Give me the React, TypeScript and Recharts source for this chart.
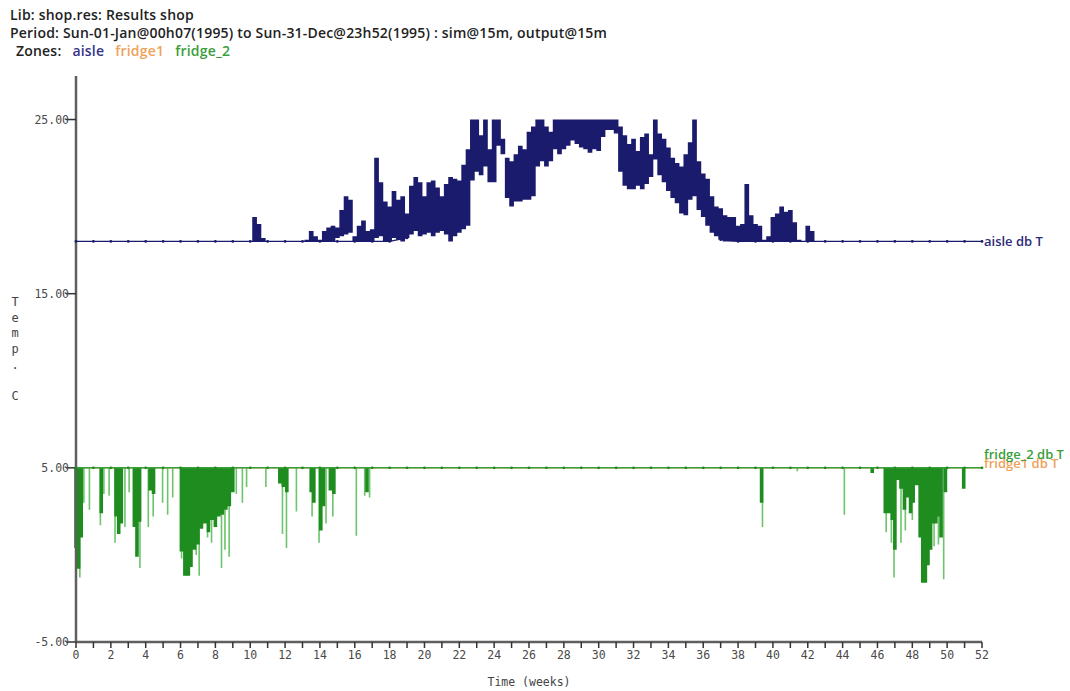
import { ComposedChart, Line, XAxis, YAxis } from 'recharts'

const HEADER_LIB = 'Lib: shop.res: Results shop'
const HEADER_PERIOD =
  'Period: Sun-01-Jan@00h07(1995) to Sun-31-Dec@23h52(1995) : sim@15m, output@15m'
const zoneNames = ['aisle', 'fridge1', 'fridge_2']
const seriesLabels = ['aisle db T', 'fridge1 db T', 'fridge_2 db T']

const NAVY = '#1b1b6e'
const ORANGE = '#eea25a'
const GREEN = '#1f8c1f'
const LIGHT_GREEN = '#6cc46c'

const weekTicks = [
  0, 1, 2, 3, 4, 5, 6, 7, 8, 9, 10, 11, 12, 13, 14, 15, 16, 17, 18, 19, 20, 21, 22, 23, 24, 25,
  26, 27, 28, 29, 30, 31, 32, 33, 34, 35, 36, 37, 38, 39, 40, 41, 42, 43, 44, 45, 46, 47, 48, 49,
  50, 51, 52,
]
const tempTicks = [-5, 5, 15, 25]

// one sample per week (index = week), drawn with the little markers;
// null where the trace is buried in the summer band
const aisleWeekly = [
  18, 18, 18, 18, 18, 18, 18, 18, 18, 18,
  18, 18, 18, 18, 18,
  18, 18, 18, 18, 18.2,
  null, null, null, null, null,
  null, null, null, null, null,
  null, null, null, null, null,
  null, null, 18.1, 18, 18,
  18, 18, 18, 18, 18,
  18, 18, 18, 18, 18,
  18, 18, 18,
]
const fridge1Weekly = [
  5, 5, 5, 5, 5, 5, 5, 5, 5, 5, 5, 5, 5, 5, 5, 5, 5, 5, 5, 5, 5, 5, 5, 5, 5, 5,
  5, 5, 5, 5, 5, 5, 5, 5, 5, 5, 5, 5, 5, 5, 5, 5, 5, 5, 5, 5, 5, 5, 5, 5, 5, 5, 5,
]
const fridge2Weekly = [
  5, 5, 5, 5, 5, 5, 5, 5, 5, 5, 5, 5, 5, 5, 5, 5, 5, 5, 5, 5, 5, 5, 5, 5, 5, 5,
  5, 5, 5, 5, 5, 5, 5, 5, 5, 5, 5, 5, 5, 5, 5, 5, 5, 5, 5, 5, 5, 5, 5, 5, 5, 5, 5,
]

// aisle min / max in each quarter week, weeks 10 .. 42.5
const aisleBandStart = 10
const aisleBandStep = 0.25
const aisleHigh = [
  18, 19.4, 19.0, 18.2,
  18, 18, 18, 18,
  18, 18, 18, 18,
  18, 18.1, 18.6, 18.3,
  18.1, 18.6, 18.8, 18.9,
  18.8, 19.8, 20.6, 20.4,
  18.3, 18.9, 19.2, 18.6,
  18.7, 22.8, 21.4, 20.3,
  20.0, 20.9, 20.4, 20.6,
  19.6, 21.2, 21.7, 21.4,
  20.6, 21.4, 21.5, 21.1,
  20.6, 21.3, 21.7, 21.6,
  21.5, 22.4, 23.3, 25.0,
  25.0, 24.1, 25.0, 23.3,
  25.0, 25.0, 23.0, 22.8,
  22.6, 23.0, 23.5, 23.3,
  24.3, 24.6, 25.0, 25.0,
  24.6, 24.3, 25.0, 25.0,
  25, 25, 25, 25,
  25, 25, 25, 25,
  25, 25, 25, 25,
  25.0, 24.6, 24.1, 23.6,
  23.9, 23.2, 24.0, 24.2,
  23.0, 25.0, 24.2, 23.9,
  23.4, 22.8, 22.5, 22.3,
  23.0, 23.7, 25.0, 22.6,
  21.9, 21.6, 20.6, 20.0,
  19.9, 19.5, 19.4, 19.4,
  18.9, 19.0, 21.3, 19.5,
  19.0, 18.9, 18.1, 18.3,
  19.4, 19.6, 20.0, 19.7,
  19.8, 19.1, 18.1, 18.0,
  18.9, 18.6, 18.0,
]
const aisleLow = [
  18, 18, 18, 18,
  18, 18, 18, 18,
  18, 18, 18, 18,
  18, 18, 18, 18,
  18, 18, 18, 18,
  18.2, 18.3, 18.4, 18.5,
  18, 18, 18, 18,
  18, 18.2, 18.3, 18,
  18, 18.2, 18.1, 18,
  18.2, 18.4, 18.6, 18.3,
  18.4, 18.5, 18.3, 18.5,
  18.6, 18.4, 18, 18.3,
  18.5, 18.7, 18.9, 21.5,
  22, 21.8, 22.3, 21.4,
  21.4, 23.5, 23.9, 20.5,
  20, 20.3, 20.3, 20.4,
  20.4, 20.6, 22.3, 22.6,
  22.3, 22.6, 23.3, 23,
  23.3, 23.5, 23.8, 23.6,
  23.4, 23.3, 23.1, 23.3,
  23.2, 24, 24.4, 24.4,
  24.2, 22, 21.2, 21,
  21, 21.2, 21, 21.3,
  21.7, 22.7, 21.8, 21.4,
  20.9, 20.5, 20.2, 19.6,
  19.5, 20.4, 20.6, 19.8,
  19.4, 18.9, 18.5, 18.3,
  18.1, 18, 18, 18,
  18, 18, 18, 18,
  18, 18, 18, 18,
  18, 18, 18, 18,
  18, 18, 18, 18,
  18, 18, 18,
]

// fridge_2 drops below its 5 C setpoint: dense runs and single spikes
const FRIDGE_SETPOINT = 5
const fridgeDenseWeeks = [
  0.0, 0.15, 0.3, 1.45, 2.3, 2.45, 2.6, 3.35, 3.5, 3.65, 4.25, 4.45,
  6.05, 6.25, 6.45, 6.6, 6.8, 7.0, 7.2, 7.4, 7.6, 7.8, 8.0, 8.2, 8.4, 8.6, 8.8, 9.0,
  11.7, 11.9, 12.1, 13.5, 13.65, 14.05, 14.2, 14.6, 14.8, 16.7,
  39.35, 45.7, 46.45, 46.65, 46.85, 47.0, 47.2, 47.35, 47.55, 47.7, 47.9, 48.05, 48.25,
  48.45, 48.6, 48.75, 48.9, 49.05, 49.2, 49.35, 49.5, 49.65, 49.9, 50.95,
]
const fridgeDenseLows = [
  0.4, -0.8, 1.0, 2.4, 2.2, 1.2, 1.8, 1.6, -0.1, 1.9, 3.7, 3.5,
  0.2, -1.2, -1.2, -0.7, 0.3, 0.6, 1.5, 1.8, 1.3, 2.0, 1.6, 2.2, 2.3, 2.6, 2.8, 3.6,
  4.1, 3.9, 3.6, 3.6, 3.0, 1.4, 2.8, 3.7, 3.5, 3.6,
  3.0, 4.7, 2.4, 2.4, 2.0, 0.3, 4.3, 3.8, 2.6, 3.3, 2.4, 3.0, 4.0,
  1.0, -1.6, -1.6, -0.6, 0.3, 1.8, 1.8, 2.2, 1.0, 3.6, 3.8,
]
const fridgeSpikeWeeks = [
  0.22, 0.45, 0.77, 1.4, 1.6, 1.9, 2.24, 2.81, 3.05, 3.67, 4.15, 4.43, 4.97, 5.26, 5.55,
  6.06, 6.35, 6.9, 7.07, 7.55, 7.78, 8.35, 8.55, 8.79, 9.2, 9.55, 9.79, 10.9, 11.85,
  12.08, 12.65, 13.55, 13.95, 14.35, 14.74, 16.09, 16.57, 16.85,
  39.4, 41.4, 44.1, 46.5, 46.8, 46.95, 47.35, 47.6, 48.0, 49.25, 49.5, 49.8,
]
const fridgeSpikeLows = [
  -1.3, 3.0, 2.6, 1.7, 3.5, 3.4, 0.7, 1.6, 3.6, -0.75, 1.6, 2.2, 3.0, 2.3, 3.3,
  -0.2, -1.2, 0.0, -1.2, 1.0, 0.7, -0.75, 0.3, -0.1, 3.5, 3.0, 3.9, 3.9, 1.2,
  0.4, 2.5, 2.2, 0.7, 1.8, 2.2, 1.1, 3.4, 3.3,
  1.6, 4.8, 2.3, 1.3, 0.7, -1.3, 0.7, 1.4, 2.0, 0.5, 0.6, -1.4,
]

type Pt = { w: number; v: number | null }

const weekly = (vals: (number | null)[]): Pt[] => vals.map((v, i) => ({ w: weekTicks[i], v }))

// vertical strokes: top -> bottom, then a gap so the line breaks
const strokes = (weeks: number[], tops: number[], lows: number[]): Pt[] => {
  const out: Pt[] = []
  weeks.forEach((w, i) => {
    out.push({ w, v: tops[i] }, { w, v: lows[i] }, { w, v: null })
  })
  return out
}

const aisleBandWeeks = aisleHigh.map((_, i) => aisleBandStart + i * aisleBandStep)
const aisleBand = strokes(aisleBandWeeks, aisleHigh, aisleLow)
const fridgeDense = strokes(
  fridgeDenseWeeks,
  fridgeDenseWeeks.map(() => FRIDGE_SETPOINT),
  fridgeDenseLows,
)
const fridgeSpikes = strokes(
  fridgeSpikeWeeks,
  fridgeSpikeWeeks.map(() => FRIDGE_SETPOINT),
  fridgeSpikeLows,
)

const endLabel = (text: string, color: string, dy: number) => (p: any) =>
  p.index === weekTicks.length - 1 ? (
    <text
      x={p.x + 2}
      y={p.y + dy}
      fill={color}
      fontSize={13}
      fontWeight={600}
      fontFamily="Open Sans"
    >
      {text}
    </text>
  ) : null

const mono = 'DejaVu Sans Mono'

const YTitle = (props: any) => {
  const vb = props.viewBox
  const letters = 'Temp. C'.split('')
  const mid = vb.y + vb.height / 2
  return (
    <g>
      {letters.map((ch, i) => (
        <text
          key={i}
          x={vb.x - 1}
          y={mid - 57 + i * 15.7}
          textAnchor="middle"
          dominantBaseline="central"
          fontFamily={mono}
          fontSize={12}
          fill="#444"
        >
          {ch}
        </text>
      ))}
    </g>
  )
}

const XTitle = (props: any) => {
  const vb = props.viewBox
  return (
    <text
      x={vb.x + vb.width / 2}
      y={vb.y + 40}
      textAnchor="middle"
      dominantBaseline="central"
      fontFamily={mono}
      fontSize={11.5}
      fill="#444"
    >
      Time (weeks)
    </text>
  )
}

const zoneColors = ['#34348a', '#eea25a', '#3a9e3a']

export default function App() {
  return (
    <div
      style={{
        position: 'absolute',
        left: 0,
        top: 0,
        width: 1070,
        height: 691,
        background: '#fff',
        overflow: 'hidden',
      }}
    >
      <div
        style={{
          position: 'absolute',
          left: 10,
          top: 6,
          fontFamily: 'Open Sans',
          fontWeight: 600,
          fontSize: 14,
          letterSpacing: 0.2,
          lineHeight: '18px',
          color: '#222',
          whiteSpace: 'pre',
        }}
      >
        <div>{HEADER_LIB}</div>
        <div>{HEADER_PERIOD}</div>
        <div style={{ paddingLeft: 6 }}>
          Zones:
          {zoneNames.map((z, i) => (
            <span key={z} style={{ color: zoneColors[i], marginLeft: 11 }}>
              {z}
            </span>
          ))}
        </div>
      </div>

      <ComposedChart
        width={1070}
        height={691}
        margin={{ top: 76, right: 88, bottom: 19, left: 16 }}
      >
        <XAxis
          dataKey="w"
          type="number"
          domain={[0, 52]}
          ticks={weekTicks}
          interval={0}
          height={30}
          tickSize={6}
          tickMargin={3}
          tickFormatter={(v: number) => (v % 2 === 0 ? String(v) : '')}
          axisLine={{ stroke: '#5f5f5f', strokeWidth: 2.5 }}
          tickLine={{ stroke: '#333', strokeWidth: 1.5 }}
          tick={{ fill: '#4a4a4a', fontSize: 11.5, fontFamily: mono }}
          label={{ content: XTitle }}
        />
        <YAxis
          type="number"
          domain={[-5, 27.5]}
          ticks={tempTicks}
          interval={0}
          width={60}
          tickSize={10}
          tickMargin={-3}
          tickFormatter={(v: number) => v.toFixed(2)}
          axisLine={{ stroke: '#5f5f5f', strokeWidth: 2.5 }}
          tickLine={{ stroke: '#333', strokeWidth: 1.5 }}
          tick={{ fill: '#4a4a4a', fontSize: 11.5, fontFamily: mono }}
          label={{ content: YTitle }}
        />

        <Line
          data={weekly(fridge1Weekly)}
          dataKey="v"
          stroke={ORANGE}
          strokeWidth={1.5}
          dot={false}
          activeDot={false}
          isAnimationActive={false}
          label={endLabel(seriesLabels[1], ORANGE, 0)}
        />
        <Line
          data={fridgeSpikes}
          dataKey="v"
          stroke={LIGHT_GREEN}
          strokeWidth={1.6}
          dot={false}
          activeDot={false}
          connectNulls={false}
          isAnimationActive={false}
        />
        <Line
          data={fridgeDense}
          dataKey="v"
          stroke={GREEN}
          strokeWidth={3.6}
          dot={false}
          activeDot={false}
          connectNulls={false}
          isAnimationActive={false}
        />
        <Line
          data={weekly(fridge2Weekly)}
          dataKey="v"
          stroke="#3a9e3a"
          strokeWidth={1.5}
          dot={{ r: 1.4, fill: GREEN, stroke: 'none' }}
          activeDot={false}
          isAnimationActive={false}
          label={endLabel(seriesLabels[2], '#3a9e3a', -9)}
        />
        <Line
          data={aisleBand}
          dataKey="v"
          stroke={NAVY}
          strokeWidth={4.7}
          dot={false}
          activeDot={false}
          connectNulls={false}
          isAnimationActive={false}
        />
        <Line
          data={weekly(aisleWeekly)}
          dataKey="v"
          stroke={NAVY}
          strokeWidth={1.3}
          dot={{ r: 1.4, fill: NAVY, stroke: 'none' }}
          activeDot={false}
          connectNulls={false}
          isAnimationActive={false}
          label={endLabel(seriesLabels[0], '#2b2b7a', 5)}
        />
      </ComposedChart>
    </div>
  )
}
